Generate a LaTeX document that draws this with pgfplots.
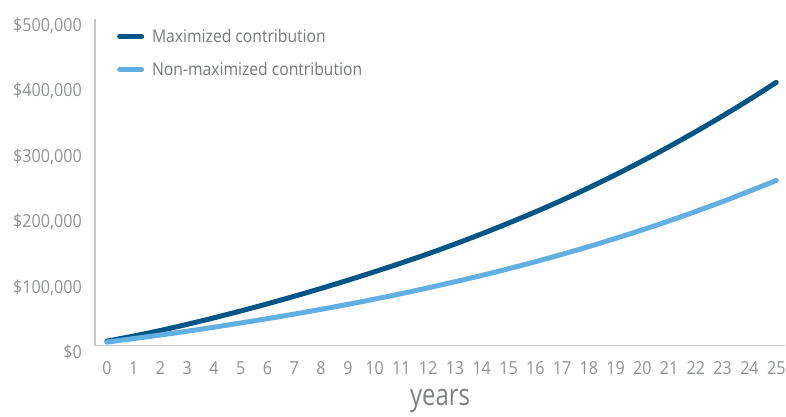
\documentclass[border=0pt]{standalone}
\usepackage{fontspec}
\setmainfont[FakeStretch=0.9]{Open Sans}
\newfontfamily\yearsfont[FakeStretch=0.8]{Open Sans}
\usepackage{pgfplots}
\pgfplotsset{compat=1.18}
\definecolor{darkblue}{HTML}{005587}
\definecolor{lightblue}{HTML}{62B0E3}
\definecolor{axgray}{HTML}{C8C8C8}
\definecolor{txtgray}{HTML}{909396}
\definecolor{leggray}{HTML}{76797C}
\definecolor{lblgray}{HTML}{7D8084}
\begin{document}
\begin{tikzpicture}
\begin{axis}[
  name=main, scale only axis, width=691bp, height=327bp,
  xmin=-0.448, xmax=25.34, ymin=0, ymax=500000,
  axis x line*=bottom, axis y line*=left,
  axis line style={axgray, line width=1.3bp},
  xtick={0,...,25},
  ytick={0,100000,200000,300000,400000,500000},
  yticklabels={{\$0},{\$100,000},{\$200,000},{\$300,000},{\$400,000},{\$500,000}},
  major tick length=0pt,
  tick label style={font=\fontsize{18}{20}\selectfont, text=txtgray},
  /pgf/number format/assume math mode=true,
  xticklabel style={anchor=north, inner sep=0pt, yshift=-15.5bp},
  yticklabel style={anchor=east, inner sep=0pt, xshift=-13bp, yshift=-7bp},
  scaled y ticks=false,
  xlabel={years},
  xlabel style={font=\yearsfont\fontsize{30}{32}\selectfont, text=lblgray,
    at={(axis description cs:0.5,0)}, anchor=base, yshift=-60bp},
  legend style={at={(axis description cs:0,1)}, anchor=north west,
    xshift=22bp, yshift=-7bp, draw=none, fill=none, inner sep=0pt,
    font=\fontsize{17.5}{20}\selectfont, text=leggray, row sep=12bp,
    nodes={inner sep=3bp},
    /tikz/every odd column/.append style={column sep=5bp}},
  legend cell align=left,
  legend image code/.code={\draw[#1, line cap=round] (2.5bp,0bp) -- (24.5bp,0bp);},
  every axis plot/.append style={line width=5bp, line cap=round, line join=round, smooth, tension=0.5},
]
\addplot[darkblue] coordinates {
(0,7000) (1,14800) (2,23300) (3,32700) (4,42700) (5,53200) (6,64200) (7,75700)
(8,87700) (9,100200) (10,113200) (11,126700) (12,140700) (13,155600) (14,171200)
(15,187600) (16,204700) (17,222700) (18,241700) (19,261700) (20,282700)
(21,304700) (22,327700) (23,351700) (24,376700) (25,403000)};
\addlegendentry{Maximized contribution}
\addplot[lightblue] coordinates {
(0,5500) (1,10900) (2,16400) (3,22200) (4,28300) (5,34800) (6,41400) (7,48400)
(8,55700) (9,63300) (10,71300) (11,79700) (12,88600) (13,97900) (14,107500)
(15,117800) (16,128500) (17,139900) (18,151700) (19,164200) (20,177300)
(21,191000) (22,205500) (23,220600) (24,236500) (25,253000)};
\addlegendentry{Non-maximized contribution}
\end{axis}
\path ([xshift=-95bp,yshift=-67bp]main.south west) rectangle ([yshift=19bp]main.north east);
\end{tikzpicture}
\end{document}
